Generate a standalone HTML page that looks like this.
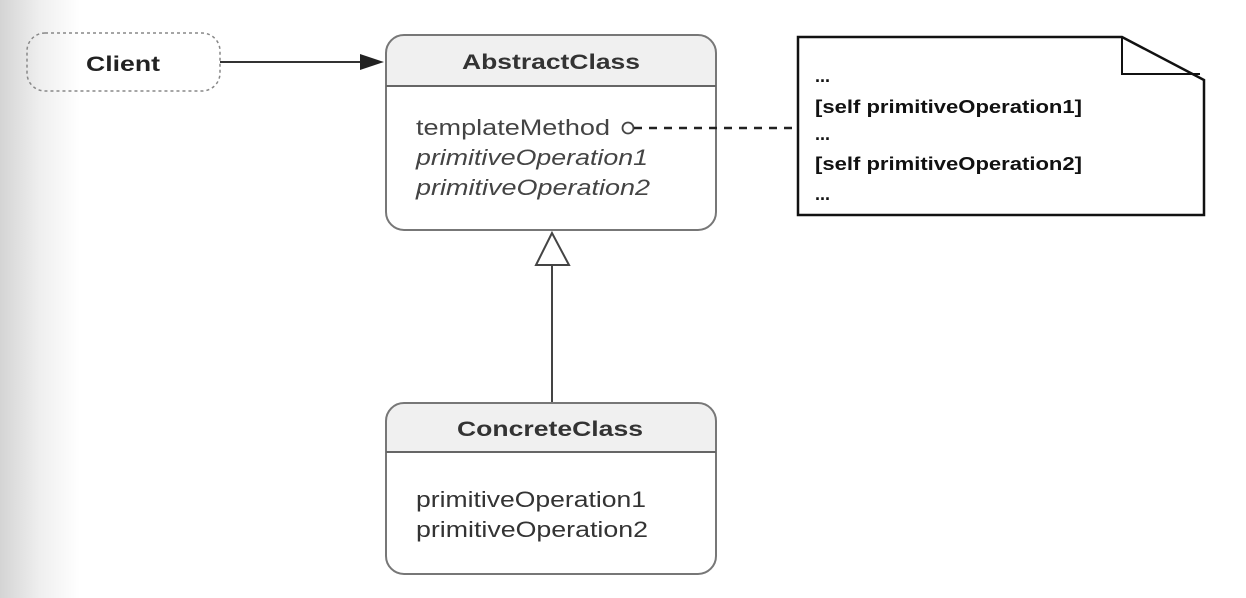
<!DOCTYPE html>
<html><head><meta charset="utf-8"><style>
html,body{margin:0;padding:0;width:1246px;height:598px;overflow:hidden;background:#fff}
svg{display:block}
text{font-family:"Liberation Sans",sans-serif}
</style></head><body>
<svg width="1246" height="598" viewBox="0 0 1246 598">
<defs>
<linearGradient id="g" x1="0" x2="1" y1="0" y2="0">
<stop offset="0" stop-color="#d4d4d4"/><stop offset="0.5" stop-color="#efefef"/><stop offset="1" stop-color="#fff"/>
</linearGradient>
</defs>
<rect x="0" y="0" width="80" height="598" fill="url(#g)"/>
<!-- Client -->
<rect x="27" y="33" width="193" height="58" rx="18" fill="none" stroke="#888" stroke-width="1.5" stroke-dasharray="3,3"/>
<text x="86" y="71" font-size="21" font-weight="bold" fill="#222" textLength="74" lengthAdjust="spacingAndGlyphs">Client</text>
<line x1="220" y1="62" x2="362" y2="62" stroke="#333" stroke-width="2"/>
<polygon points="384,62 360,54 360,70" fill="#222"/>
<!-- AbstractClass -->
<path d="M386,86 V53 Q386,35 404,35 H698 Q716,35 716,53 V86 Z" fill="#f0f0f0"/>
<rect x="386" y="35" width="330" height="195" rx="18" fill="none" stroke="#777" stroke-width="2"/>
<line x1="386" y1="86" x2="716" y2="86" stroke="#666" stroke-width="2"/>
<text x="462" y="69" font-size="21" font-weight="bold" fill="#333" textLength="178" lengthAdjust="spacingAndGlyphs">AbstractClass</text>
<text x="416" y="135" font-size="22" fill="#444" textLength="194" lengthAdjust="spacingAndGlyphs">templateMethod</text>
<text x="416" y="165" font-size="22" font-style="italic" fill="#444" textLength="232" lengthAdjust="spacingAndGlyphs">primitiveOperation1</text>
<text x="416" y="195" font-size="22" font-style="italic" fill="#444" textLength="234" lengthAdjust="spacingAndGlyphs">primitiveOperation2</text>
<circle cx="628" cy="128" r="5.5" fill="none" stroke="#444" stroke-width="1.8"/>
<line x1="634" y1="128" x2="798" y2="128" stroke="#222" stroke-width="2.5" stroke-dasharray="8,7"/>
<!-- Note -->
<path d="M798,37 H1122 L1204,80 V215 H798 Z" fill="#fff" stroke="#111" stroke-width="2.5"/>
<path d="M1122,38 V74 H1200" fill="none" stroke="#111" stroke-width="2"/>
<g font-size="18" fill="#111" font-weight="bold">
<text x="815" y="82">...</text>
<text x="815" y="113" textLength="267" lengthAdjust="spacingAndGlyphs">[self primitiveOperation1]</text>
<text x="815" y="140">...</text>
<text x="815" y="170" textLength="267" lengthAdjust="spacingAndGlyphs">[self primitiveOperation2]</text>
<text x="815" y="200">...</text>
</g>
<!-- inheritance -->
<polygon points="552,233 536,265 569,265" fill="#fff" stroke="#444" stroke-width="2"/>
<line x1="552" y1="265" x2="552" y2="403" stroke="#444" stroke-width="2"/>
<!-- ConcreteClass -->
<path d="M386,452 V421 Q386,403 404,403 H698 Q716,403 716,421 V452 Z" fill="#f0f0f0"/>
<rect x="386" y="403" width="330" height="171" rx="18" fill="none" stroke="#777" stroke-width="2"/>
<line x1="386" y1="452" x2="716" y2="452" stroke="#666" stroke-width="2"/>
<text x="457" y="436" font-size="21" font-weight="bold" fill="#333" textLength="186" lengthAdjust="spacingAndGlyphs">ConcreteClass</text>
<text x="416" y="507" font-size="22" fill="#333" textLength="230" lengthAdjust="spacingAndGlyphs">primitiveOperation1</text>
<text x="416" y="537" font-size="22" fill="#333" textLength="232" lengthAdjust="spacingAndGlyphs">primitiveOperation2</text>
</svg>
</body></html>
